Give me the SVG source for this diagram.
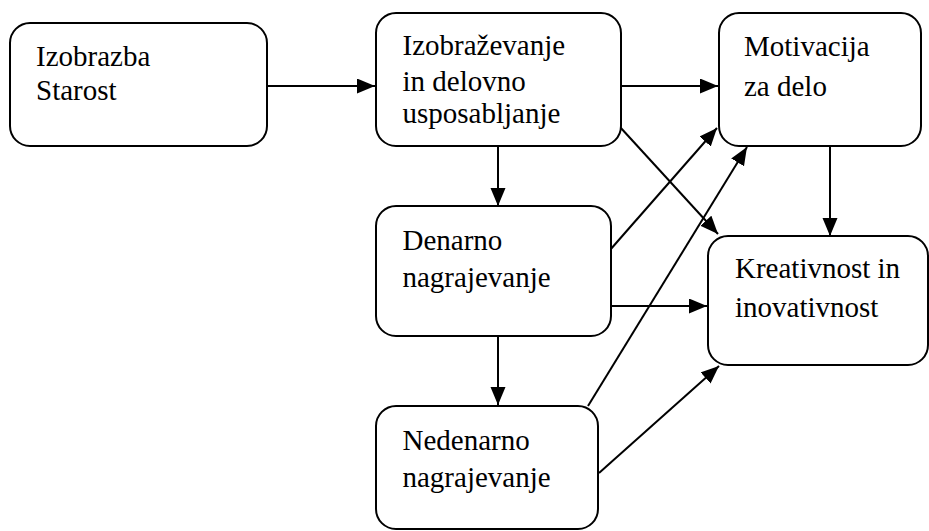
<svg xmlns="http://www.w3.org/2000/svg" width="929" height="531" viewBox="0 0 929 531">
<style>
.box{fill:#fff;stroke:#000;stroke-width:2}
.t{font-family:"Times New Roman","Liberation Serif","DejaVu Serif",serif;font-size:29px;fill:#000}
.c{fill:none;stroke:#000;stroke-width:2}
</style>
<defs>
<marker id="ah" markerUnits="userSpaceOnUse" markerWidth="20" markerHeight="16" refX="18" refY="7.5" orient="auto">
<path d="M0,0 L18,7.5 L0,15 z" fill="#000"/>
</marker>
</defs>
<rect width="929" height="531" fill="#fff"/>
<g id="connectors">
<line class="c" x1="267" y1="86" x2="375" y2="86" marker-end="url(#ah)"/>
<line class="c" x1="621" y1="86" x2="718" y2="86" marker-end="url(#ah)"/>
<line class="c" x1="498" y1="146" x2="498" y2="206" marker-end="url(#ah)"/>
<line class="c" x1="498" y1="336" x2="498" y2="405" marker-end="url(#ah)"/>
<line class="c" x1="830" y1="146" x2="830" y2="236" marker-end="url(#ah)"/>
<line class="c" x1="611" y1="306" x2="707" y2="306" marker-end="url(#ah)"/>
<line class="c" x1="620" y1="127" x2="718" y2="234" marker-end="url(#ah)"/>
<line class="c" x1="610" y1="250" x2="717" y2="128" marker-end="url(#ah)"/>
<line class="c" x1="588" y1="406" x2="747" y2="147" marker-end="url(#ah)"/>
<line class="c" x1="599" y1="473" x2="719" y2="366" marker-end="url(#ah)"/>
</g>
<g id="n1">
<rect class="box" x="10" y="23" width="257" height="123" rx="20"/>
<text class="t" x="36" y="65.5">Izobrazba</text>
<text class="t" x="36" y="100">Starost</text>
</g>
<g id="n2">
<rect class="box" x="376" y="13" width="245" height="133" rx="20"/>
<text class="t" x="402.5" y="55">Izobraževanje</text>
<text class="t" x="402.5" y="90.5">in delovno</text>
<text class="t" x="402.5" y="122.5">usposabljanje</text>
</g>
<g id="n3">
<rect class="box" x="719" y="13" width="202" height="133" rx="20"/>
<text class="t" x="744" y="55.5">Motivacija</text>
<text class="t" x="744" y="95.5">za delo</text>
</g>
<g id="n4">
<rect class="box" x="376" y="206" width="235" height="130" rx="20"/>
<text class="t" x="402.5" y="249.5">Denarno</text>
<text class="t" x="402.5" y="286.5">nagrajevanje</text>
</g>
<g id="n5">
<rect class="box" x="708" y="236" width="220" height="129" rx="20"/>
<text class="t" x="735" y="278">Kreativnost in</text>
<text class="t" x="735" y="317">inovativnost</text>
</g>
<g id="n6">
<rect class="box" x="376" y="406" width="222" height="123" rx="20"/>
<text class="t" x="402.5" y="449.5">Nedenarno</text>
<text class="t" x="402.5" y="486.5">nagrajevanje</text>
</g>
</svg>
